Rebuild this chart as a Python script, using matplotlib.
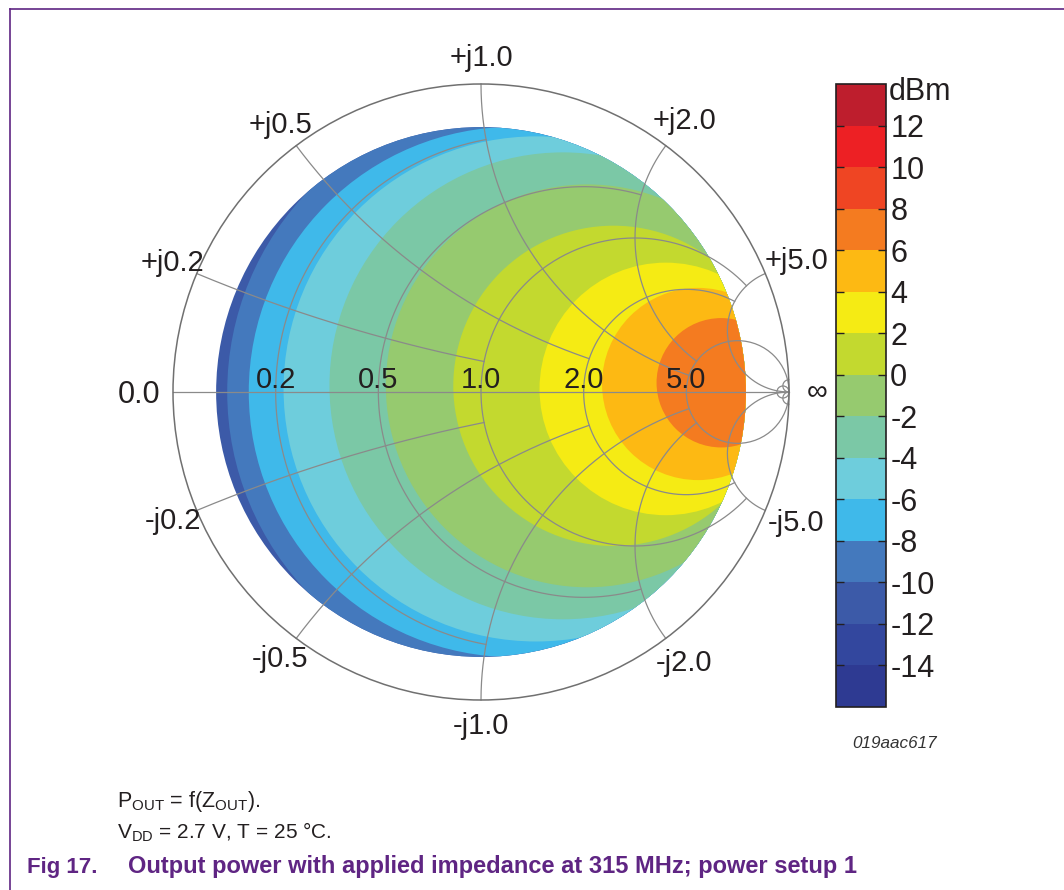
import numpy as np
import matplotlib
matplotlib.use("Agg")
import matplotlib.pyplot as plt
from matplotlib.patches import Circle
from matplotlib.lines import Line2D
from matplotlib.colors import ListedColormap, BoundaryNorm
from matplotlib.cm import ScalarMappable

plt.rcParams['font.family'] = ['Liberation Sans', 'DejaVu Sans']
plt.rcParams['axes.unicode_minus'] = False
plt.rcParams['mathtext.default'] = 'regular'

# colour scale (dBm)
levels = [-16, -14, -12, -10, -8, -6, -4, -2, 0, 2, 4, 6, 8, 10, 12, 14]
band_colors = ['#2e3a92', '#33479e', '#3c5aa8', '#4479bd', '#3fb9ea', '#6ecddc',
               '#7bc8a6', '#96ca6f', '#c3d92f', '#f5eb14', '#fdb913', '#f47b20',
               '#ef4523', '#ed2024', '#be1e2d']

# measured area on the Smith chart (|gamma| <= data_radius), lowest band
data_radius = 0.86
base_level = -12

# constant-power contours P >= level (gamma plane)
contour_level = [-10, -8, -6, -4, -2, 0, 2, 4, 6]
contour_re = [0.116, 0.107, 0.179, 0.266, 0.345, 0.43, 0.60, 0.705, 0.78]
contour_im = [0.0, 0.0, 0.01, 0.02, 0.02, 0.02, 0.01, 0.026, 0.03]
contour_rad = [0.94, 0.861, 0.82, 0.758, 0.654, 0.52, 0.41, 0.312, 0.21]

# Smith chart grid: constant r circles (drawn for |x| <= r_stop),
# constant x arcs (drawn for r <= x_stop)
r_grid = [0.2, 0.5, 1.0, 2.0, 5.0, 50.0]
r_stop = [1.0, 2.0, 5.0, 5.0, np.inf, np.inf]
x_grid = [0.2, 0.5, 1.0, 2.0, 5.0, 50.0]
x_stop = [1.0, 2.0, 5.0, 5.0, np.inf, np.inf]
r_labels = ['0.2', '0.5', '1.0', '2.0', '5.0']
x_labels = ['0.2', '0.5', '1.0', '2.0', '5.0']


def band_color(lv):
    return band_colors[levels.index(lv)]


def gamma(z):
    return (z - 1) / (z + 1)


fig = plt.figure(figsize=(10.64, 8.9), dpi=100)
W, H = 1064.0, 890.0
cx_px, cy_px, R_px = 481.0, 392.0, 308.0
span = 1.2
ax = fig.add_axes([(cx_px - span * R_px) / W, (H - cy_px - span * R_px) / H,
                   2 * span * R_px / W, 2 * span * R_px / H])
ax.set_xlim(-span, span)
ax.set_ylim(-span, span)
ax.axis('off')

# filled contours
disc = Circle((0, 0), data_radius, facecolor=band_color(base_level),
              edgecolor='none', zorder=1)
ax.add_patch(disc)
for lv, cre, cim, rad in zip(contour_level, contour_re, contour_im, contour_rad):
    c = Circle((cre, cim), rad, facecolor=band_color(lv), edgecolor='none', zorder=2)
    ax.add_patch(c)
    c.set_clip_path(disc)

grid_col = '#8a8a8a'
glw = 0.9
for r, xs in zip(r_grid, r_stop):
    if np.isinf(xs):
        ax.add_patch(Circle((r / (1 + r), 0), 1 / (1 + r), fill=False,
                            edgecolor=grid_col, lw=glw, zorder=3))
    else:
        g = gamma(r + 1j * np.linspace(-xs, xs, 500))
        ax.plot(g.real, g.imag, color=grid_col, lw=glw, zorder=3)
for x, rs in zip(x_grid, x_stop):
    if np.isinf(rs):
        rr = np.concatenate([np.linspace(0, 1, 300), np.logspace(0, 4, 300)])
    else:
        rr = np.linspace(0, rs, 500)
    for s in (1, -1):
        g = gamma(rr + 1j * s * x)
        ax.plot(g.real, g.imag, color=grid_col, lw=glw, zorder=3)
ax.plot([-1, 1], [0, 0], color=grid_col, lw=glw, zorder=3)
ax.add_patch(Circle((0, 0), 1.0, fill=False, edgecolor='#707070', lw=1.1, zorder=3))

txt_col = '#231f20'
fs = 21
# resistance labels on the real axis
for r, lab in zip(r_grid, r_labels):
    ax.text(gamma(r), 0.012, lab, ha='center', va='baseline', fontsize=fs,
            color=txt_col, zorder=4)
# reactance labels around the rim
for x, lab in zip(x_grid, x_labels):
    for s, sign in ((1, '+'), (-1, '-')):
        ang = np.angle(gamma(1j * s * x))
        rl = 1.085 + 0.025 * max(np.cos(ang), 0)
        ax.text(rl * np.cos(ang), rl * np.sin(ang), sign + 'j' + lab,
                ha='center', va='center', fontsize=fs, color=txt_col)
ax.text(-1.04, -0.01, '0.0', ha='right', va='center', fontsize=fs + 1, color=txt_col)
ax.text(1.09, 0, '\u221e', ha='center', va='center', fontsize=fs, color=txt_col)

# colour bar
cax = fig.add_axes([836 / W, (H - 707) / H, 50 / W, 623 / H])
cmap = ListedColormap(band_colors)
norm = BoundaryNorm(levels, cmap.N)
cb = fig.colorbar(ScalarMappable(norm=norm, cmap=cmap), cax=cax, ticks=levels[1:-1])
cb.set_ticklabels([str(v) for v in levels[1:-1]])
cb.outline.set_linewidth(1.2)
cb.outline.set_edgecolor('#231f20')
cax.minorticks_off()
cax.tick_params(direction='in', length=6, width=1, left=True, right=True,
                labelsize=22, pad=3, colors=txt_col)
cax.text(1.06, 13.6, 'dBm', transform=cax.get_yaxis_transform(), ha='left',
         va='center', fontsize=22, color=txt_col)

fig.text(852 / W, 1 - 743 / H, '019aac617', fontsize=12.3, style='italic',
         color='#333333', va='center')

# caption
fig.text(117 / W, 1 - 807 / H, r'P$_{OUT}$ = f(Z$_{OUT}$).', fontsize=15.5,
         color=txt_col, va='baseline')
fig.text(117 / W, 1 - 839 / H, r'V$_{DD}$ = 2.7 V, T = 25 $\degree$C.', fontsize=15,
         color=txt_col, va='baseline')
purple = '#5f2583'
fig.text(27 / W, 1 - 873 / H, 'Fig 17.', fontsize=16, fontweight='bold',
         color=purple, va='baseline')
fig.text(128 / W, 1 - 873 / H,
         'Output power with applied impedance at 315 MHz; power setup 1',
         fontsize=17, fontweight='bold', color=purple, va='baseline')

# page frame
fig.add_artist(Line2D([10 / W, 10 / W], [0, 1 - 9 / H], color=purple, lw=1.2,
                      transform=fig.transFigure))
fig.add_artist(Line2D([10 / W, 1], [1 - 9 / H, 1 - 9 / H], color=purple, lw=1.2,
                      transform=fig.transFigure))

fig.savefig('out.png', dpi=100)
